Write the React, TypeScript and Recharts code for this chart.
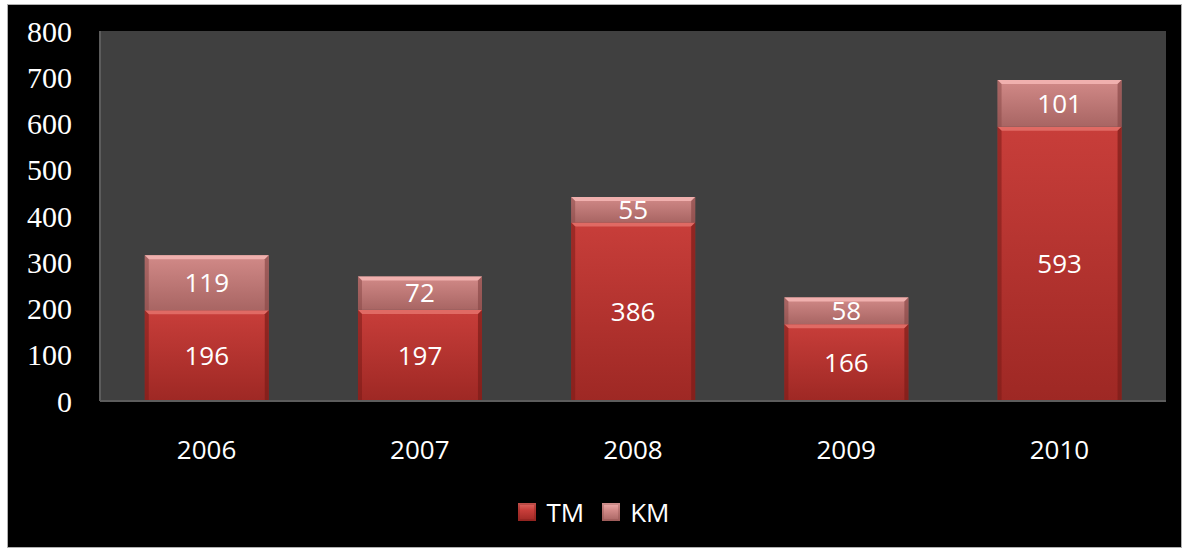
import { BarChart, Bar, XAxis, YAxis, CartesianGrid, Legend, LabelList } from "recharts";

const years = ["2006", "2007", "2008", "2009", "2010"];
const tm = [196, 197, 386, 166, 593];
const km = [119, 72, 55, 58, 101];
const yTicks = [0, 100, 200, 300, 400, 500, 600, 700, 800];

const data = years.map((year, i) => ({ year, TM: tm[i], KM: km[i] }));

const sans = "'Open Sans', 'Noto Sans', sans-serif";

const seriesStyle = [
  { key: "TM", grad: "gradTM", light: "#e06a64", dark: "#7a1c18", top: "#c83e3a", bottom: "#9e2824" },
  { key: "KM", grad: "gradKM", light: "#f0b0ae", dark: "#8a4a48", top: "#d28a88", bottom: "#a86563" },
];

// bevelled bar segment, roughly like the Office chart style
function BevelBar(props: any) {
  const { x, y, width, height, gradId, light, dark } = props;
  if (!height || height <= 0) return null;
  const b = 4;
  return (
    <g>
      <rect x={x} y={y} width={width} height={height} fill={`url(#${gradId})`} />
      <polygon points={`${x},${y} ${x + width},${y} ${x + width - b},${y + b} ${x + b},${y + b}`} fill={light} />
      <polygon points={`${x},${y} ${x + b},${y + b} ${x + b},${y + height} ${x},${y + height}`} fill={dark} opacity={0.55} />
      <polygon points={`${x + width},${y} ${x + width - b},${y + b} ${x + width - b},${y + height} ${x + width},${y + height}`} fill={dark} opacity={0.7} />
    </g>
  );
}

function LegendBox() {
  return (
    <div style={{ display: "flex", justifyContent: "center", alignItems: "center", fontFamily: sans, fontSize: 26, color: "#ffffff" }}>
      {seriesStyle.map((s) => (
        <div key={s.key} style={{ display: "flex", alignItems: "center", margin: "0 9px" }}>
          <span
            style={{
              display: "inline-block",
              width: 18,
              height: 18,
              marginRight: 10,
              background: `linear-gradient(${s.light}, ${s.top} 40%, ${s.bottom})`,
              boxShadow: `inset 0 0 0 2px ${s.dark}55`,
            }}
          />
          <span>{s.key}</span>
        </div>
      ))}
    </div>
  );
}

export default function App() {
  return (
    <div style={{ position: "absolute", left: 0, top: 0, width: 1188, height: 550, background: "#ffffff" }}>
      <div
        style={{
          position: "absolute",
          left: 7,
          top: 4,
          width: 1173,
          height: 542,
          background: "#000000",
          border: "1px solid #b0b0b0",
        }}
      />
      <div style={{ position: "absolute", left: 0, top: 0 }}>
        <BarChart
          width={1188}
          height={550}
          data={data}
          margin={{ top: 31, right: 22, left: 10, bottom: 0 }}
          barCategoryGap="21%"
        >
          <defs>
            {seriesStyle.map((s) => (
              <linearGradient key={s.grad} id={s.grad} x1="0" y1="0" x2="0" y2="1">
                <stop offset="0%" stopColor={s.top} />
                <stop offset="100%" stopColor={s.bottom} />
              </linearGradient>
            ))}
          </defs>
          <CartesianGrid horizontal={false} vertical={false} fill="#404040" />
          <XAxis
            dataKey="year"
            axisLine={{ stroke: "#5c5c5c", strokeWidth: 2 }}
            tickLine={false}
            tick={{ fill: "#ffffff", fontSize: 26, fontFamily: sans }}
            tickMargin={34}
            height={149}
          />
          <YAxis
            domain={[0, 800]}
            ticks={yTicks}
            interval={0}
            axisLine={{ stroke: "#5c5c5c", strokeWidth: 2 }}
            tickLine={false}
            tickSize={0}
            tickMargin={28}
            width={90}
            tick={{ fill: "#ffffff", fontSize: 30, fontFamily: "'Liberation Serif', 'Times New Roman', serif" }}
          />
          <Legend
            layout="horizontal"
            verticalAlign="middle"
            align="center"
            content={() => <LegendBox />}
            wrapperStyle={{ top: 494, left: 0, width: 1188 }}
          />
          {seriesStyle.map((s) => (
            <Bar
              key={s.key}
              dataKey={s.key}
              stackId="a"
              fill={s.top}
              isAnimationActive={false}
              shape={(p: any) => <BevelBar {...p} gradId={s.grad} light={s.light} dark={s.dark} />}
            >
              <LabelList dataKey={s.key} position="center" fill="#ffffff" fontSize={26} fontFamily={sans} />
            </Bar>
          ))}
        </BarChart>
      </div>
    </div>
  );
}
